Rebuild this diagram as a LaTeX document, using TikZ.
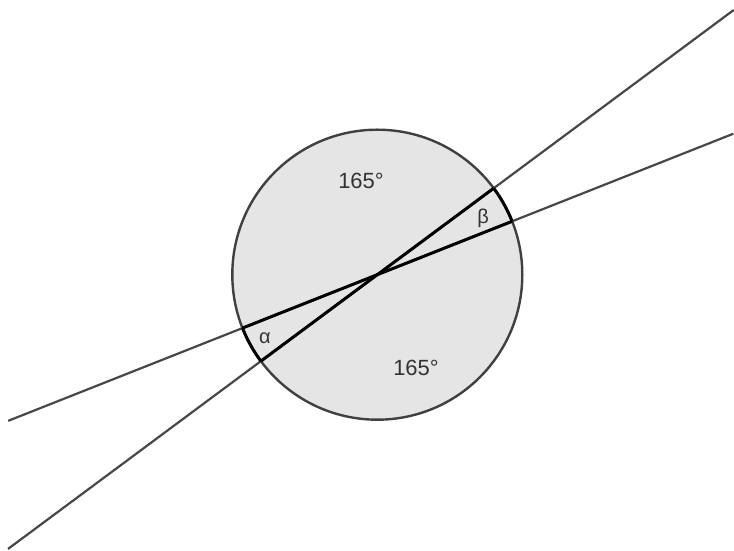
\documentclass[tikz,border=0pt]{standalone}
\usepackage{fontspec}
\setmainfont{Liberation Sans}
\usetikzlibrary{calc}
\begin{document}
\begin{tikzpicture}[x=1pt,y=1pt,
  rim/.style={draw=black!75, line width=2.4pt},
  ray/.style={draw=black!72, line width=2.2pt},
  chord/.style={draw=black, line width=3pt},
  lbl/.style={font=\fontsize{22}{22}\selectfont, text=black!80, inner sep=0pt},
  glbl/.style={font=\fontsize{20}{20}\selectfont, text=black!80, inner sep=0pt}]
\useasboundingbox (0,0) rectangle (734,551);
\def\R{145}
\coordinate (O) at (377.3,276.3);
\fill[gray!20] (O) circle (\R);
% ray end points
\coordinate (L1) at ($(O)+(216.6:460)$);
\coordinate (R1) at ($(O)+(36.6:444)$);
\coordinate (L2) at ($(O)+(201.6:397)$);
\coordinate (R2) at ($(O)+(21.6:383)$);
% points on circle
\coordinate (P1) at ($(O)+(36.6:\R)$);
\coordinate (Q1) at ($(O)+(216.6:\R)$);
\coordinate (P2) at ($(O)+(21.6:\R)$);
\coordinate (Q2) at ($(O)+(201.6:\R)$);
\draw[ray] (L1) -- (R1);
\draw[ray] (L2) -- (R2);
\draw[rim] (O) circle (\R);
\draw[chord] (Q1) -- (P1);
\draw[chord] (Q2) -- (P2);
\draw[chord] (P2) arc[start angle=21.6, end angle=36.6, radius=\R];
\draw[chord] (Q2) arc[start angle=201.6, end angle=216.6, radius=\R];
\node[lbl] (top) at (361,370) {165°};
\node[lbl] (bot) at (416,183) {165°};
\node[glbl] (beta) at (483,333) {β};
\node[glbl] (alpha) at (265,213) {α};
\end{tikzpicture}
\end{document}
